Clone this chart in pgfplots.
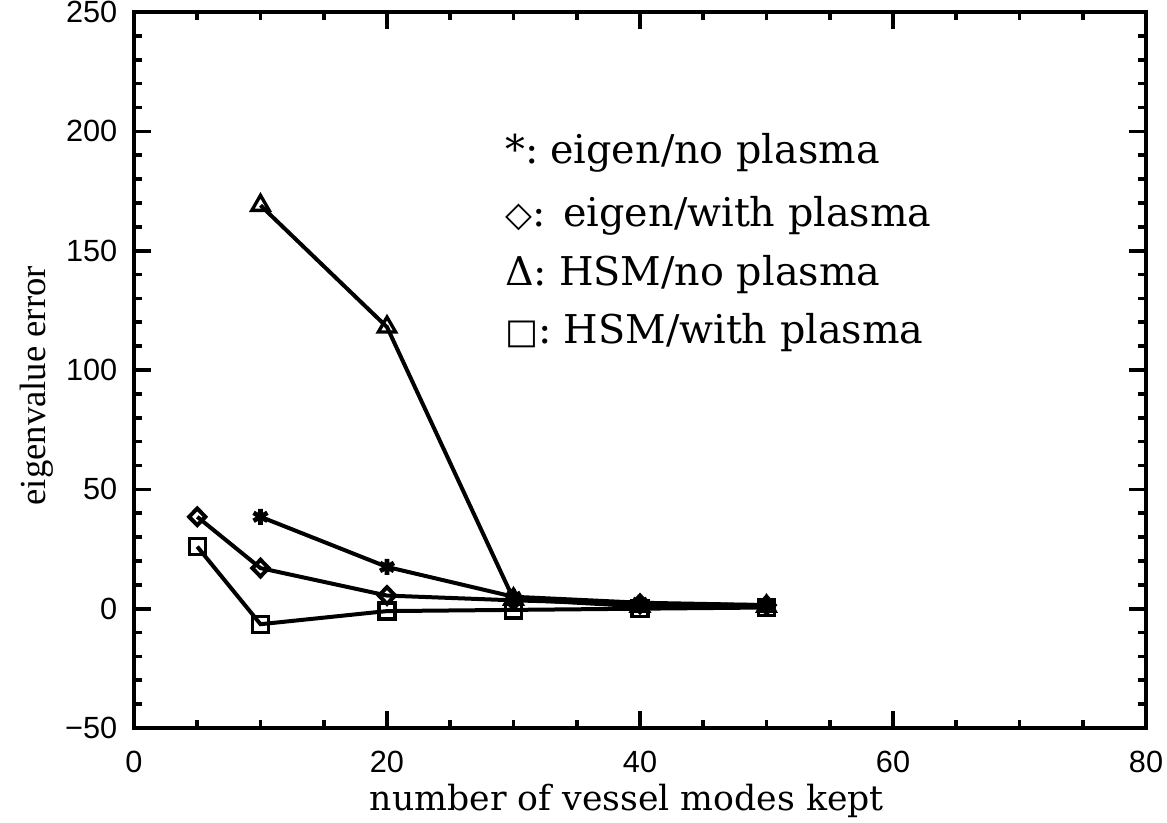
\documentclass[border=0pt]{standalone}
\usepackage{pgfplots}
\pgfplotsset{compat=1.18}
\usepackage{fontspec}
\setmainfont{DejaVu Serif}
\setsansfont{Liberation Sans}
\newfontfamily\symfont{DejaVu Sans}
\newfontfamily\ylabfont{Liberation Serif}

\newcommand{\legline}[2]{#1:\hspace{0.3em}#2}
\newcommand{\geo}[1]{{\symfont\fontsize{10.5}{10}\selectfont #1}}

\begin{document}
\begin{tikzpicture}
\begin{axis}[
    scale only axis,
    width=303.6pt, height=214.8pt,
    xmin=0, xmax=80, ymin=-50, ymax=250,
    xtick={0,20,40,60,80},
    ytick={-50,0,50,100,150,200,250},
    yticklabels={−50,0,50,100,150,200,250},
    minor x tick num=3,
    minor y tick num=4,
    tick align=inside,
    major tick length=5.2pt,
    minor tick length=2.5pt,
    every tick/.style={line width=1.1pt},
    axis line style={line width=1.3pt},
    /pgf/number format/assume math mode=true,
    ticklabel style={font=\sffamily\fontsize{9.2}{10}\selectfont},
    xticklabel style={yshift=-3.5pt},
    yticklabel style={xshift=-1.5pt},
    xlabel={number of vessel modes kept},
    ylabel={eigenvalue error},
    xlabel style={font=\fontsize{10.4}{12}\selectfont, at={(axis description cs:0.487,0)}, anchor=base, yshift=-24.6pt},
    ylabel style={font=\ylabfont\fontsize{11}{13}\selectfont, at={(axis description cs:0,0.478)}, anchor=base, yshift=26.5pt},
    every axis plot/.style={black, line width=1.2pt, mark options={solid, line width=1pt}},
    clip=false,
]
% eigen/no plasma
\addplot[mark=asterisk, mark size=2.4pt, mark options={line width=1.4pt}] coordinates {(10,38.5)(20,17.5)(30,5)(40,2.5)(50,1.5)};
% eigen/with plasma
\addplot[mark=diamond, mark size=2.5pt, mark options={xscale=1.3}] coordinates {(5,38.5)(10,17)(20,5.5)(30,3.5)(40,2)(50,1.5)};
% HSM/no plasma
\addplot[mark=triangle, mark size=3pt] coordinates {(10,169)(20,118)(30,4)(40,1)(50,1)};
% HSM/with plasma
\addplot[mark=square, mark size=2.4pt] coordinates {(5,26)(10,-6.5)(20,-1)(30,-0.5)(40,0)(50,0.5)};

\node[anchor=base west, font=\fontsize{11.9}{13}\selectfont, inner sep=0pt] at (axis cs:29.3,186.6) {\legline{*}{eigen/no plasma}};
\node[anchor=base west, font=\fontsize{11.9}{13}\selectfont, inner sep=0pt] at (axis cs:29.3,160.2) {\legline{\geo{◇}}{\hspace{0.15em}eigen/with plasma}};
\node[anchor=base west, font=\fontsize{11.9}{13}\selectfont, inner sep=0pt] at (axis cs:29.3,135.5) {\legline{Δ}{HSM/no plasma}};
\node[anchor=base west, font=\fontsize{11.9}{13}\selectfont, inner sep=0pt] at (axis cs:29.3,111.2) {\legline{\geo{□}}{HSM/with plasma}};

\coordinate (sw) at (rel axis cs:0,0);
\coordinate (ne) at (rel axis cs:1,1);
\end{axis}
\pgfresetboundingbox
\path[use as bounding box] ([xshift=-40.2pt,yshift=-28.2pt]sw) rectangle ([xshift=6.3pt,yshift=3.6pt]ne);
\end{tikzpicture}
\end{document}
